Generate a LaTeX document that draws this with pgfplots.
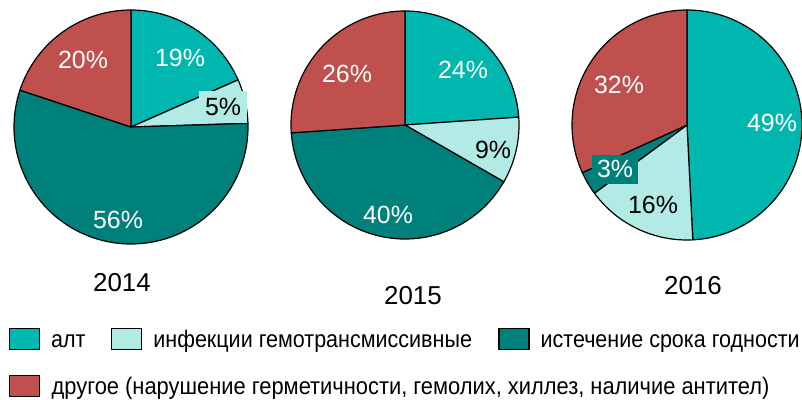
\documentclass[border=0pt]{standalone}
\usepackage{fontspec}
\setmainfont{Liberation Sans}
\newfontfamily\lgfam[FakeStretch=0.9]{Liberation Sans}
\newfontfamily\lgfamb[FakeStretch=0.915]{Liberation Sans}
\usepackage{pgfplots}
\usepackage{pgfplotstable}
\pgfplotsset{compat=1.18}
\definecolor{alt}{RGB}{0,183,176}
\definecolor{inf}{RGB}{178,235,230}
\definecolor{ist}{RGB}{0,128,122}
\definecolor{oth}{RGB}{192,80,77}

% shares in percent, clockwise from 12 o'clock
\pgfplotstableread{
cat share
alt 18.4
inf 6.1
ist 55.6
oth 19.9
}\tabA
\pgfplotstableread{
cat share
alt 23.9
inf 9.4
ist 40.6
oth 26.1
}\tabB
\pgfplotstableread{
cat share
alt 49.2
inf 15.7
ist 3.3
oth 31.8
}\tabC

\newcommand\slice[6]{%
  \addplot[forget plot, draw=black, line width=1.2bp, line join=round, fill=#6,
    domain=#4:#5, samples=90, variable=\t]
    ({#1+#3*cos(\t)},{#2+#3*sin(\t)}) -- (axis cs:#1,#2) -- cycle;}
\newcommand\pie[4]{% cx cy r table
  \gdef\pieang{90}%
  \foreach \i in {0,...,3}{%
    \pgfplotstablegetelem{\i}{share}\of#4\let\v\pgfplotsretval
    \pgfplotstablegetelem{\i}{cat}\of#4\let\c\pgfplotsretval
    \pgfmathsetmacro\newang{\pieang-3.6*\v}%
    \edef\tmp{\noexpand\slice{#1}{#2}{#3}{\newang}{\pieang}{\c}}%
    \tmp
    \xdef\pieang{\newang}%
  }}
\newcommand\pctfont{\fontsize{25}{25}\selectfont}
\newcommand\yrfont{\fontsize{26}{26}\selectfont}
\newcommand\lgfont{\lgfam\fontsize{24}{24}\selectfont}
\newcommand\lgstrut{\vphantom{(Фу)}}

\begin{document}
\begin{tikzpicture}
\begin{axis}[hide axis, scale only axis, width=802bp, height=400bp,
  xmin=0, xmax=802, ymin=0, ymax=400, clip=false,
  legend columns=3,
  legend image code/.code={\draw[#1, draw=black, line width=1.2bp] (0bp,-10bp) rectangle (30bp,11bp);},
  legend style={draw=none, fill=none, inner sep=0pt, outer sep=0pt,
    at={(axis cs:9,72.5)}, anchor=north west, font=\lgfont,
    nodes={inner sep=0pt, outer sep=0pt},
    row sep=25bp,
    /tikz/every odd column/.append style={column sep=11bp}},
  legend cell align=left]
\addlegendimage{fill=alt}\addlegendentry{\makebox[60bp][l]{\lgstrut алт}}
\addlegendimage{fill=inf}\addlegendentry{\makebox[345bp][l]{\lgstrut инфекции гемотрансмиссивные}}
\addlegendimage{fill=ist}\addlegendentry{\lgstrut истечение срока годности}
\addlegendimage{fill=oth}\addlegendentry{\makebox[0pt][l]{\lgfamb\lgstrut другое (нарушение герметичности, гемолих, хиллез, наличие антител)}}

\pie{131}{273}{117}{\tabA}
\pie{405}{275}{114}{\tabB}
\pie{687}{275}{115}{\tabC}

\node[font=\pctfont, text=white] at (axis cs:180,342) {19\%};
\node[font=\pctfont, text=black, fill=inf, minimum width=48bp, minimum height=32bp, inner sep=0pt] at (axis cs:223,293) {5\%};
\node[font=\pctfont, text=white] at (axis cs:83,340) {20\%};
\node[font=\pctfont, text=white] at (axis cs:118,180) {56\%};

\node[font=\pctfont, text=white] at (axis cs:463,330) {24\%};
\node[font=\pctfont, text=black] at (axis cs:493,250) {9\%};
\node[font=\pctfont, text=white] at (axis cs:388,185) {40\%};
\node[font=\pctfont, text=white] at (axis cs:347,326) {26\%};

\node[font=\pctfont, text=white] at (axis cs:772,277) {49\%};
\node[font=\pctfont, text=white] at (axis cs:619,315) {32\%};
\node[font=\pctfont, text=white, fill=ist, minimum width=46bp, minimum height=29bp, inner sep=0pt] at (axis cs:615,231) {3\%};
\node[font=\pctfont, text=black] at (axis cs:653,195) {16\%};

\node[font=\yrfont] at (axis cs:122,117) {2014};
\node[font=\yrfont] at (axis cs:413,104) {2015};
\node[font=\yrfont] at (axis cs:693,114) {2016};
\end{axis}
\pgfresetboundingbox
\useasboundingbox (current axis.south west) rectangle (current axis.north east);
\end{tikzpicture}
\end{document}
